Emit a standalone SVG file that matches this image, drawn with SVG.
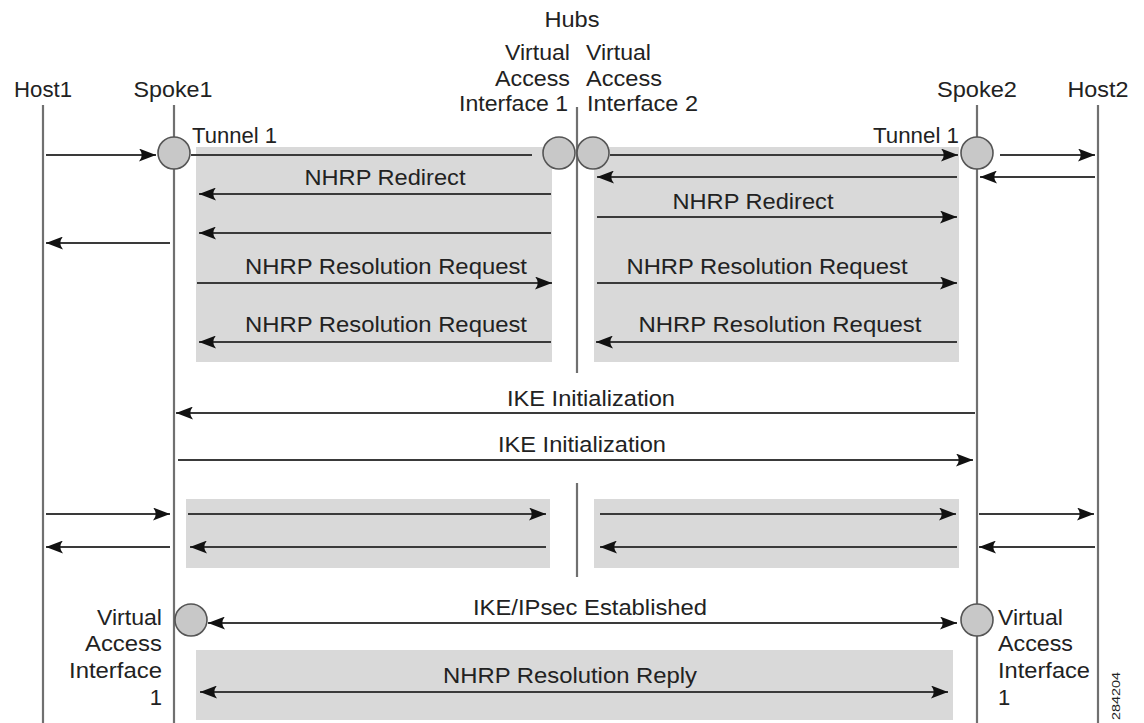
<svg xmlns="http://www.w3.org/2000/svg" width="1144" height="723" viewBox="0 0 1144 723">
<defs>
<marker id="ah" markerUnits="userSpaceOnUse" markerWidth="17" markerHeight="13" refX="17" refY="6.5" orient="auto-start-reverse" viewBox="0 0 17 13"><path d="M0,0 L17,6.5 L0,13 Q5.5,6.5 0,0 Z" fill="#111"/></marker>
<style>
text{font-family:"Liberation Sans",Arial,Helvetica,sans-serif;font-size:22px;fill:#222}
.life{stroke:#707070;stroke-width:2.2}
.box{fill:#d9d9d9}
.msg{stroke:#3a3a3a;stroke-width:2;fill:none}
.arr{marker-end:url(#ah)}
.dbl{marker-start:url(#ah);marker-end:url(#ah)}
.if{fill:#c8c8c8;stroke:#555;stroke-width:1.6}
.m{text-anchor:middle}
.e{text-anchor:end}
</style>
</defs>
<rect width="1144" height="723" fill="#fff"/>
<g id="boxes">
<rect class="box" x="196" y="147" width="356" height="215"/>
<rect class="box" x="594" y="147" width="365" height="215"/>
<rect class="box" x="186" y="499" width="364" height="69"/>
<rect class="box" x="594" y="499" width="365" height="69"/>
<rect class="box" x="196" y="650" width="757" height="70"/>
</g>
<g id="host1">
<line class="life" x1="43" y1="105" x2="43" y2="723"/>
<text class="m" x="43" y="97" textLength="58" lengthAdjust="spacingAndGlyphs">Host1</text>
</g>
<g id="spoke1">
<line class="life" x1="174" y1="105" x2="174" y2="723"/>
<text class="m" x="173" y="97" textLength="79" lengthAdjust="spacingAndGlyphs">Spoke1</text>
<circle class="if" cx="174" cy="153" r="16"/>
<text x="192" y="143" textLength="85" lengthAdjust="spacingAndGlyphs">Tunnel 1</text>
<circle class="if" cx="191" cy="620" r="16"/>
<text class="e" x="162" y="625" textLength="65" lengthAdjust="spacingAndGlyphs">Virtual</text>
<text class="e" x="162" y="651" textLength="77" lengthAdjust="spacingAndGlyphs">Access</text>
<text class="e" x="162" y="678" textLength="93" lengthAdjust="spacingAndGlyphs">Interface</text>
<text class="e" x="162" y="705">1</text>
</g>
<g id="hubs">
<line class="life" x1="577" y1="107" x2="577" y2="373"/>
<line class="life" x1="577" y1="483" x2="577" y2="577"/>
<text class="m" x="572" y="27" textLength="55" lengthAdjust="spacingAndGlyphs">Hubs</text>
<text class="e" x="570" y="60" textLength="65" lengthAdjust="spacingAndGlyphs">Virtual</text>
<text class="e" x="570" y="86" textLength="75" lengthAdjust="spacingAndGlyphs">Access</text>
<text class="e" x="568" y="111" textLength="109" lengthAdjust="spacingAndGlyphs">Interface 1</text>
<text x="586" y="60" textLength="65" lengthAdjust="spacingAndGlyphs">Virtual</text>
<text x="586" y="86" textLength="76" lengthAdjust="spacingAndGlyphs">Access</text>
<text x="587" y="111" textLength="111" lengthAdjust="spacingAndGlyphs">Interface 2</text>
<circle class="if" cx="559" cy="153" r="16"/>
<circle class="if" cx="593" cy="153" r="16"/>
</g>
<g id="spoke2">
<line class="life" x1="977" y1="105" x2="977" y2="723"/>
<text class="m" x="977" y="97" textLength="80" lengthAdjust="spacingAndGlyphs">Spoke2</text>
<circle class="if" cx="977" cy="153" r="16"/>
<text class="e" x="959" y="143" textLength="86" lengthAdjust="spacingAndGlyphs">Tunnel 1</text>
<circle class="if" cx="977" cy="620" r="16"/>
<text x="998" y="625" textLength="65" lengthAdjust="spacingAndGlyphs">Virtual</text>
<text x="998" y="651" textLength="75" lengthAdjust="spacingAndGlyphs">Access</text>
<text x="998" y="678" textLength="92" lengthAdjust="spacingAndGlyphs">Interface</text>
<text x="998" y="705">1</text>
</g>
<g id="host2">
<line class="life" x1="1098" y1="105" x2="1098" y2="723"/>
<text class="m" x="1098" y="97" textLength="61" lengthAdjust="spacingAndGlyphs">Host2</text>
</g>
<g id="connectors">
<line class="msg arr" x1="46" y1="155" x2="156" y2="155"/>
<line class="msg" x1="191" y1="155" x2="532" y2="155"/>
<line class="msg arr" x1="610" y1="155" x2="958" y2="155"/>
<line class="msg arr" x1="1000" y1="155" x2="1095" y2="155"/>
<line class="msg arr" x1="1095" y1="177" x2="980" y2="177"/>
<line class="msg arr" x1="957" y1="177" x2="597" y2="177"/>
<line class="msg arr" x1="551" y1="194" x2="199" y2="194"/>
<line class="msg arr" x1="597" y1="217" x2="957" y2="217"/>
<line class="msg arr" x1="551" y1="233" x2="199" y2="233"/>
<line class="msg arr" x1="170" y1="243" x2="46" y2="243"/>
<line class="msg arr" x1="197" y1="283" x2="552" y2="283"/>
<line class="msg arr" x1="597" y1="283" x2="957" y2="283"/>
<line class="msg arr" x1="551" y1="342" x2="199" y2="342"/>
<line class="msg arr" x1="957" y1="342" x2="596" y2="342"/>
<line class="msg arr" x1="975" y1="413" x2="176" y2="413"/>
<line class="msg arr" x1="178" y1="460" x2="973" y2="460"/>
<line class="msg arr" x1="46" y1="514" x2="170" y2="514"/>
<line class="msg arr" x1="188" y1="514" x2="546" y2="514"/>
<line class="msg arr" x1="600" y1="514" x2="956" y2="514"/>
<line class="msg arr" x1="979" y1="514" x2="1094" y2="514"/>
<line class="msg arr" x1="1095" y1="547" x2="979" y2="547"/>
<line class="msg arr" x1="957" y1="547" x2="600" y2="547"/>
<line class="msg arr" x1="546" y1="547" x2="190" y2="547"/>
<line class="msg arr" x1="170" y1="547" x2="46" y2="547"/>
<line class="msg dbl" x1="208" y1="623" x2="957" y2="623"/>
<line class="msg dbl" x1="200" y1="692" x2="948" y2="692"/>
</g>
<g id="labels">
<text class="m" x="385" y="185" textLength="161" lengthAdjust="spacingAndGlyphs">NHRP Redirect</text>
<text class="m" x="753" y="209" textLength="161" lengthAdjust="spacingAndGlyphs">NHRP Redirect</text>
<text class="m" x="386" y="274" textLength="282" lengthAdjust="spacingAndGlyphs">NHRP Resolution Request</text>
<text class="m" x="767" y="274" textLength="281" lengthAdjust="spacingAndGlyphs">NHRP Resolution Request</text>
<text class="m" x="386" y="332" textLength="282" lengthAdjust="spacingAndGlyphs">NHRP Resolution Request</text>
<text class="m" x="780" y="332" textLength="283" lengthAdjust="spacingAndGlyphs">NHRP Resolution Request</text>
<text class="m" x="591" y="406" textLength="168" lengthAdjust="spacingAndGlyphs">IKE Initialization</text>
<text class="m" x="582" y="452" textLength="168" lengthAdjust="spacingAndGlyphs">IKE Initialization</text>
<text class="m" x="590" y="615" textLength="234" lengthAdjust="spacingAndGlyphs">IKE/IPsec Established</text>
<text class="m" x="570" y="683" textLength="254" lengthAdjust="spacingAndGlyphs">NHRP Resolution Reply</text>
<text transform="translate(1120,720) rotate(-90)" style="font-size:11px" textLength="48" lengthAdjust="spacingAndGlyphs">284204</text>
</g>
</svg>
